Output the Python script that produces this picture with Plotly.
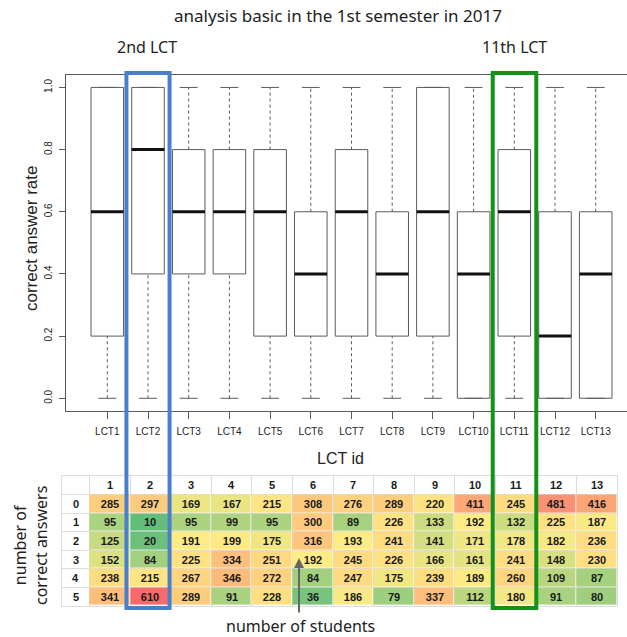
import numpy as np
import plotly.graph_objects as go

# ---- data -------------------------------------------------------------
lct_labels = [f"LCT{i}" for i in range(1, 14)]
lct_numbers = list(range(1, 14))
correct_answers = [0, 1, 2, 3, 4, 5]          # out of 5 questions per LCT

# number of students by number of correct answers (one list per row)
students_0 = [285, 297, 169, 167, 215, 308, 276, 289, 220, 411, 245, 481, 416]
students_1 = [95, 10, 95, 99, 95, 300, 89, 226, 133, 192, 132, 225, 187]
students_2 = [125, 20, 191, 199, 175, 316, 193, 241, 141, 171, 178, 182, 236]
students_3 = [152, 84, 225, 334, 251, 192, 245, 226, 166, 161, 241, 148, 230]
students_4 = [238, 215, 267, 346, 272, 84, 247, 175, 239, 189, 260, 109, 87]
students_5 = [341, 610, 289, 91, 228, 36, 186, 79, 337, 112, 180, 91, 80]

y_ticks = [0.0, 0.2, 0.4, 0.6, 0.8, 1.0]

counts = np.array([students_0, students_1, students_2,
                   students_3, students_4, students_5])

W, H = 627, 637


def px(x):
    return x / W


def py(y):
    return 1 - y / H


# ---- box statistics (Tukey five-number summary, 1.5 IQR whiskers) ------
def fivenum(v):
    v = np.sort(v)
    n = len(v)
    n4 = np.floor((n + 3) / 2) / 2
    d = np.array([1, n4, (n + 1) / 2, n + 1 - n4, n]) - 1
    return 0.5 * (v[np.floor(d).astype(int)] + v[np.ceil(d).astype(int)])


rates = np.array(correct_answers) / 5
lo_w, q1, med, q3, hi_w = [], [], [], [], []
for j in range(len(lct_numbers)):
    vals = np.repeat(rates, counts[:, j])
    s = fivenum(vals)
    iqr = s[3] - s[1]
    lo_w.append(vals[vals >= s[1] - 1.5 * iqr].min())
    hi_w.append(vals[vals <= s[3] + 1.5 * iqr].max())
    q1.append(s[1]); med.append(s[2]); q3.append(s[3])

fig = go.Figure()

box_col = "#5a5a5a"
fig.add_trace(go.Box(
    x=lct_numbers, q1=q1, median=med, q3=q3,
    lowerfence=q1, upperfence=q3, width=0.8, whiskerwidth=0,
    line=dict(color=box_col, width=1), fillcolor="white",
    boxpoints=False, hoverinfo="skip", showlegend=False,
    xaxis="x", yaxis="y"))

# dashed whiskers
wx, wy = [], []
for i, x in enumerate(lct_numbers):
    wx += [x, x, None, x, x, None]
    wy += [q3[i], hi_w[i], None, lo_w[i], q1[i], None]
fig.add_trace(go.Scatter(x=wx, y=wy, mode="lines",
                         line=dict(color=box_col, width=1, dash="3px,3px"),
                         hoverinfo="skip", showlegend=False))

# whisker staples
sx, sy = [], []
for i, x in enumerate(lct_numbers):
    sx += [x - 0.22, x + 0.22, None, x - 0.22, x + 0.22, None]
    sy += [hi_w[i], hi_w[i], None, lo_w[i], lo_w[i], None]
fig.add_trace(go.Scatter(x=sx, y=sy, mode="lines",
                         line=dict(color=box_col, width=1),
                         hoverinfo="skip", showlegend=False))

# thick medians
mx, my = [], []
for i, x in enumerate(lct_numbers):
    mx += [x - 0.4, x + 0.4, None]
    my += [med[i], med[i], None]
fig.add_trace(go.Scatter(x=mx, y=my, mode="lines",
                         line=dict(color="#111111", width=3),
                         hoverinfo="skip", showlegend=False))

# ---- table of student counts ------------------------------------------
zmin, zmax = counts.min(), counts.max()
mid = (np.percentile(counts, 50) - zmin) / (zmax - zmin)
fig.add_trace(go.Heatmap(
    z=counts, x=lct_numbers, y=correct_answers,
    zmin=zmin, zmax=zmax,
    colorscale=[[0, "#63BE7B"], [mid, "#FFEB84"], [1, "#F8696B"]],
    showscale=False, xgap=1, ygap=1,
    texttemplate="<b>%{z}</b>",
    textfont=dict(family="Liberation Sans", size=11, color="#1a1a1a"),
    hoverinfo="skip", xaxis="x2", yaxis="y2"))

ann = []
tfont = dict(family="Liberation Sans", size=11, color="#1a1a1a")
for j in lct_numbers:
    ann.append(dict(x=j, y=-1, xref="x2", yref="y2", text=f"<b>{j}</b>",
                    showarrow=False, font=tfont))
for r in correct_answers:
    ann.append(dict(x=0.16, y=r, xref="x2", yref="y2", text=f"<b>{r}</b>",
                    showarrow=False, font=tfont))

lab_font = "Noto Sans"
ann += [
    dict(x=px(338), y=py(15), text="analysis basic in the 1st semester in 2017",
         font=dict(family=lab_font, size=17, color="#222")),
    dict(x=px(147), y=py(47), text="2nd LCT",
         font=dict(family=lab_font, size=16, color="#222")),
    dict(x=px(514), y=py(47), text="11th LCT",
         font=dict(family=lab_font, size=16, color="#222")),
    dict(x=px(31), y=py(238), text="correct answer rate", textangle=-90,
         font=dict(family="Liberation Sans", size=17, color="#222")),
    dict(x=px(340), y=py(459), text="LCT id",
         font=dict(family="Liberation Sans", size=16, color="#222")),
    dict(x=px(30), y=py(546), text="number of<br>correct answers",
         textangle=-90, font=dict(family=lab_font, size=16, color="#222")),
    dict(x=px(300), y=py(626), text="number of students",
         font=dict(family=lab_font, size=16, color="#222")),
]
for a in ann[-7:]:
    a.update(xref="paper", yref="paper", showarrow=False,
             xanchor="center", yanchor="middle")
ann.append(dict(x=px(299), y=py(558), xref="paper", yref="paper", text="",
                showarrow=True, ax=0, ay=56, arrowhead=2, arrowsize=1,
                arrowwidth=2, arrowcolor="#666"))

# highlight frames around LCT2 and LCT11
shapes = [
    dict(type="rect", xref="x", yref="paper", x0=2 - 0.53, x1=2 + 0.53,
         y0=py(608), y1=py(73), line=dict(color="#4a7fcc", width=4)),
    dict(type="rect", xref="x", yref="paper", x0=11 - 0.53, x1=11 + 0.54,
         y0=py(608), y1=py(73), line=dict(color="#15911a", width=4)),
]

unit = 40.7
fig.update_layout(
    width=W, height=H, autosize=False,
    margin=dict(l=0, r=0, t=0, b=0),
    paper_bgcolor="white", plot_bgcolor="white",
    showlegend=False,
    annotations=ann, shapes=shapes,
    xaxis=dict(domain=[px(66), 1],
               range=[1 - (107.3 - 66) / unit, 1 + (W - 107.3) / unit],
               tickvals=lct_numbers, ticktext=lct_labels,
               ticks="outside", ticklen=7, tickcolor=box_col,
               ticklabelstandoff=4,
               showline=True, linecolor=box_col, mirror=True,
               showgrid=False, zeroline=False,
               tickfont=dict(family="Liberation Sans", size=10, color="#222")),
    yaxis=dict(domain=[py(410.7), py(75)], range=[-0.04, 1.04],
               tickvals=y_ticks, ticktext=[f"{v:.1f}" for v in y_ticks],
               tickangle=-90, ticks="outside", ticklen=6, tickcolor=box_col,
               ticklabelstandoff=3,
               showline=True, linecolor=box_col, mirror=False,
               showgrid=False, zeroline=False,
               tickfont=dict(family="Liberation Sans", size=10, color="#222")),
    xaxis2=dict(domain=[px(62), px(617)], range=[-0.175, 13.495],
                anchor="y2", tickvals=[k + 0.5 for k in range(0, 13)],
                showticklabels=False, ticks="", showgrid=True,
                gridcolor="#dcdcdc", zeroline=False,
                showline=True, linecolor="#dcdcdc", mirror=True),
    yaxis2=dict(domain=[py(606), py(476)], range=[5.5, -1.5],
                anchor="x2", tickvals=[k - 0.5 for k in range(0, 6)],
                showticklabels=False, ticks="", showgrid=True,
                gridcolor="#dcdcdc", zeroline=False,
                showline=True, linecolor="#dcdcdc", mirror=True),
)

fig.write_html("out.html")
